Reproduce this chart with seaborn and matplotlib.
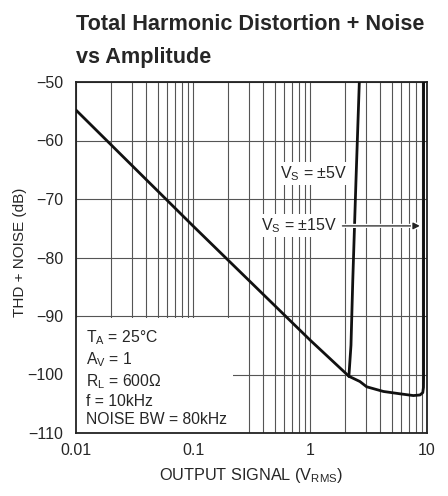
import matplotlib
matplotlib.use("Agg")
import matplotlib.pyplot as plt
import matplotlib.patheffects as pe
import seaborn as sns
import pandas as pd
from matplotlib.patches import Rectangle

# shared slope (both supplies), then the two branches after the knee
common_x = [0.01, 0.1, 1.0, 2.15]
common_y = [-54.8, -74.6, -94.1, -100.3]
vs15_x = [2.15, 2.67, 3.05, 4.24, 5.88, 7.64, 8.71, 9.2, 9.33, 9.35, 9.35]
vs15_y = [-100.3, -101.2, -102.1, -102.9, -103.3, -103.6, -103.5, -103.1, -102.2, -100.5, -50.0]
vs5_x = [2.15, 2.24, 2.32, 2.47, 2.64]
vs5_y = [-100.3, -95.0, -84.0, -67.0, -50.0]

x_ticks = [0.01, 0.1, 1, 10]
x_tick_labels = ["0.01", "0.1", "1", "10"]
y_ticks = [-110, -100, -90, -80, -70, -60, -50]
y_tick_labels = ["\u2212110", "\u2212100", "\u221290", "\u221280", "\u221270", "\u221260", "\u221250"]

conditions = [
    r"T$_\mathregular{A}$ = 25°C",
    r"A$_\mathregular{V}$ = 1",
    r"R$_\mathregular{L}$ = 600Ω",
    "f = 10kHz",
    "NOISE BW = 80kHz",
]

sns.set_style("white")
plt.rcParams["font.family"] = ["Liberation Sans", "DejaVu Sans"]

fig = plt.figure(figsize=(4.48, 4.96), dpi=100)
ax = fig.add_axes([76 / 448, 1 - 433 / 496, 351 / 448, 351 / 496])

df_common = pd.DataFrame({"x": common_x, "y": common_y})
df15 = pd.DataFrame({"x": vs15_x, "y": vs15_y})
df5 = pd.DataFrame({"x": vs5_x, "y": vs5_y})
for d in (df_common, df15, df5):
    sns.lineplot(data=d, x="x", y="y", ax=ax, color="#111111", lw=2.0,
                 sort=False, estimator=None, zorder=3)

ax.set_xscale("log")
ax.set_xlim(0.01, 10)
ax.set_ylim(-110, -50)
ax.set_xticks(x_ticks)
ax.set_xticklabels(x_tick_labels)
ax.set_yticks(y_ticks)
ax.set_yticklabels(y_tick_labels)
ax.tick_params(axis="both", which="both", length=0, labelsize=11.5)
ax.tick_params(axis="x", pad=7)
ax.tick_params(axis="y", pad=9)
ax.set_axisbelow(True)
ax.grid(True, which="both", axis="x", color="#555555", lw=0.8)
ax.grid(True, which="major", axis="y", color="#555555", lw=0.8)
for s in ax.spines.values():
    s.set_color("#222222")
    s.set_linewidth(1.3)

ax.set_xlabel(r"OUTPUT SIGNAL (V$_\mathregular{RMS}$)", fontsize=11.7, labelpad=6)
ax.set_ylabel("THD + NOISE (dB)", fontsize=11.0)
ax.yaxis.set_label_coords(-49 / 351, 0.515)

# white patch behind the test conditions
ax.add_patch(Rectangle((0, 0), 157 / 351, 115 / 351, transform=ax.transAxes,
                       fc="white", ec="none", zorder=1))
ax.text(10 / 351, 6 / 351, "\n".join(conditions), transform=ax.transAxes,
        ha="left", va="bottom", fontsize=11.3, linespacing=1.25, zorder=4)

box = dict(fc="white", ec="none", pad=1.5)
ax.text(2.07, -65.6, r"V$_\mathregular{S}$ = ±5V", ha="right", va="center",
        fontsize=11.5, bbox=box, zorder=4)
ax.annotate(r"V$_\mathregular{S}$ = ±15V", xy=(8.7, -74.6), xytext=(1.72, -74.6),
            ha="right", va="center", fontsize=11.5, bbox=box, zorder=4,
            arrowprops=dict(arrowstyle="-|>", color="#222222", lw=0.9,
                            mutation_scale=10, shrinkA=2, shrinkB=0,
                            path_effects=[pe.withStroke(linewidth=3, foreground="white")]))

fig.text(76 / 448, 1 - 14 / 496, "Total Harmonic Distortion + Noise\nvs Amplitude",
         ha="left", va="top", fontsize=15.6, fontweight="bold", linespacing=1.75)

fig.savefig("out.png", dpi=100)
